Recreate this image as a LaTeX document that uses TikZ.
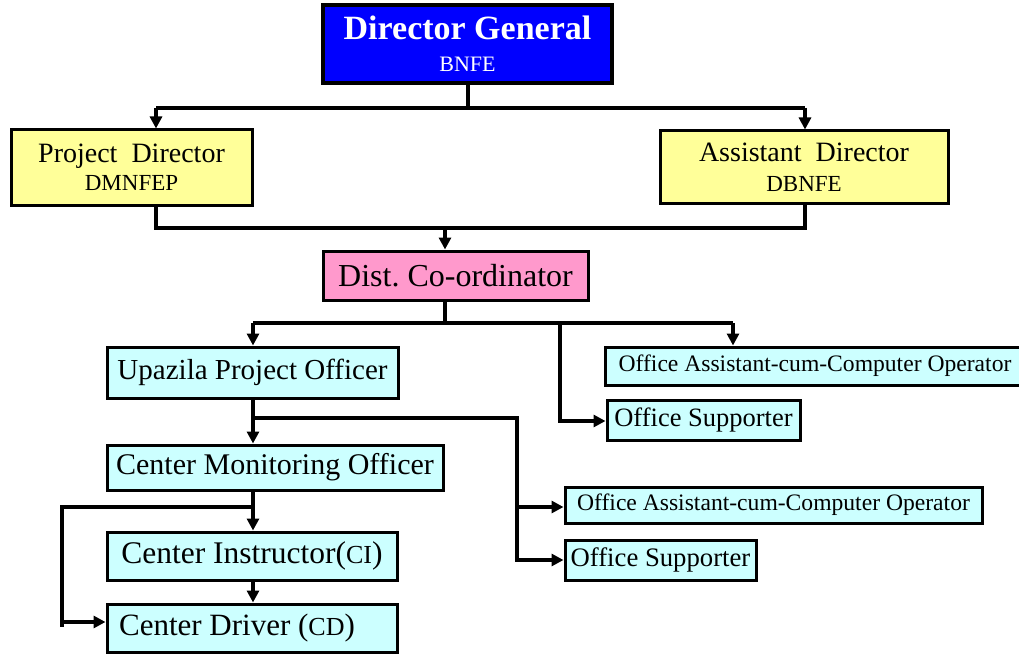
\documentclass[tikz,border=0pt]{standalone}
\usepackage{fontspec}
\setmainfont{Liberation Serif}
\usetikzlibrary{arrows.meta}
\definecolor{dgblue}{RGB}{0,0,255}
\definecolor{pdyellow}{RGB}{255,255,153}
\definecolor{dcpink}{RGB}{255,153,204}
\definecolor{boxcyan}{RGB}{204,255,255}
\newcommand{\fs}[1]{\fontsize{#1}{#1}\selectfont}
\frenchspacing
\tikzset{
  box/.style={draw=black, line width=3pt, inner sep=0pt, align=center, text=black},
  conn/.style={draw=black, line width=3.2pt},
  arr/.style={conn, -{Triangle[length=12pt,width=12pt]}},
}
\begin{document}
\begin{tikzpicture}[x=1pt,y=-1pt]
\clip (0,0) rectangle (1019,655);
\fill[white] (0,0) rectangle (1019,655);
% nodes
\node[box, fill=dgblue, line width=4.5pt, minimum width=289pt, minimum height=78pt, text=white,
  font=\fontsize{34}{32}\selectfont] (dg) at (467.5,44)
  {{\bfseries Director General}\\{\fs{22}BNFE}};
\node[box, fill=pdyellow, minimum width=241pt, minimum height=75pt,
  font=\fontsize{28}{28}\selectfont] (pd) at (131.5,167.5)
  {Project\ \ Director\\{\fs{23}DMNFEP}};
\node[box, fill=pdyellow, minimum width=288pt, minimum height=72pt,
  font=\fontsize{28}{30}\selectfont] (ad) at (804,167)
  {Assistant\ \ Director\\{\fs{23}DBNFE}};
\node[box, fill=dcpink, minimum width=265pt, minimum height=49pt] (dc) at (455.5,275.5)
  {\fs{32}Dist. Co-ordinator};
\node[box, fill=boxcyan, minimum width=291pt, minimum height=51pt] (up) at (252.5,372.5)
  {\fs{29}Upazila Project Officer};
\node[box, fill=boxcyan, minimum width=420pt, minimum height=38pt] (oa1) at (815,366)
  {\fs{23.6}Office Assistant-cum-Computer Operator};
\node[box, fill=boxcyan, minimum width=193pt, minimum height=40pt] (os1) at (703.5,420)
  {\fs{26.5}Office Supporter};
\node[box, fill=boxcyan, minimum width=336pt, minimum height=45pt] (cmo) at (275,467.5)
  {\fs{30}Center Monitoring Officer};
\node[box, fill=boxcyan, minimum width=417pt, minimum height=36pt] (oa2) at (773.5,505)
  {\fs{23.6}Office Assistant-cum-Computer Operator};
\node[box, fill=boxcyan, minimum width=191pt, minimum height=40pt] (os2) at (660.5,560)
  {\fs{26.7}Office Supporter};
\node[box, fill=boxcyan, minimum width=290pt, minimum height=48pt] (ci) at (252,556)
  {\fs{31.5}Center Instructor({\fs{26}CI})};
\node[box, fill=boxcyan, minimum width=290pt, minimum height=48pt] (cd) at (252,628)
  {\fs{31}Center Driver ({\fs{26}CD})\hspace*{30pt}};
% coordinates
\coordinate (j1) at (468,108);
\coordinate (j1l) at (156,108);
\coordinate (j1r) at (805,108);
\coordinate (j2l) at (156,228);
\coordinate (j2r) at (805,228);
\coordinate (j2) at (445,228);
\coordinate (j3) at (445,323);
\coordinate (j3l) at (253,323);
\coordinate (j3r) at (733,323);
\coordinate (j3m) at (560,323);
\coordinate (j3b) at (560,421);
\coordinate (j4) at (253,418);
\coordinate (j4r) at (517,418);
\coordinate (j4b) at (517,562);
\coordinate (j4a) at (517,507);
\coordinate (j4c) at (517,560);
\coordinate (j5) at (253,507);
\coordinate (j5l) at (62,507);
\coordinate (j5b) at (62,627);
\coordinate (j5a) at (62,622);
% connectors
\draw[conn] (dg.south -| j1) -- (j1);
\draw[conn] (j1l) -- (j1r);
\draw[arr] (j1l) -- (j1l |- pd.north);
\draw[arr] (j1r) -- (j1r |- ad.north);
\draw[conn] (j2l |- pd.south) -- (j2l) -- (j2r) -- (j2r |- ad.south);
\draw[arr] (j2) -- (j2 |- dc.north);
\draw[conn] (j3 |- dc.south) -- (j3);
\draw[conn] (j3l) -- (j3r);
\draw[arr] (j3l) -- (j3l |- up.north);
\draw[arr] (j3r) -- (j3r |- oa1.north);
\draw[arr] (j3m) -- (j3b) -- (os1.west |- j3b);
\draw[arr] (j4 |- up.south) -- (j4 |- cmo.north);
\draw[conn] (j4) -- (j4r) -- (j4b);
\draw[arr] (j4a) -- (oa2.west |- j4a);
\draw[arr] (j4c) -- (os2.west |- j4c);
\draw[arr] (j5 |- cmo.south) -- (j5 |- ci.north);
\draw[conn] (j5) -- (j5l) -- (j5b);
\draw[arr] (j5a) -- (cd.west |- j5a);
\draw[arr] (j5 |- ci.south) -- (j5 |- cd.north);
\end{tikzpicture}
\end{document}
